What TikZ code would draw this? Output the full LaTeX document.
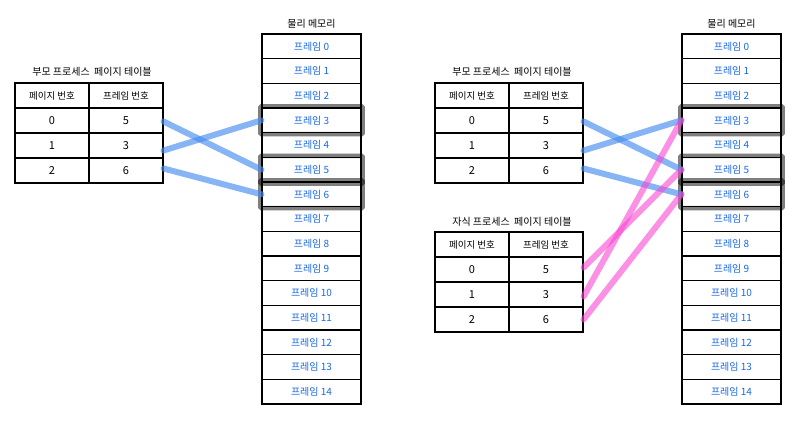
\documentclass[tikz,border=0pt]{standalone}
\usepackage{fontspec}
\setmainfont{Noto Sans CJK KR}
\usetikzlibrary{fit,calc}
\definecolor{framecol}{RGB}{25,105,230}
\definecolor{bluelinkcol}{RGB}{70,140,240}
\definecolor{pinklinkcol}{RGB}{250,70,210}
\tikzset{
  cell/.style={draw, line width=1.1pt, minimum width=74pt, minimum height=25pt, inner sep=0pt, font=\fontsize{11}{11}\selectfont},
  headcell/.style={cell, font=\fontsize{9.5}{9.5}\selectfont},
  memcell/.style={draw, line width=1.1pt, minimum width=99pt, minimum height=24.667pt, inner sep=0pt, text=framecol, font=\fontsize{10}{10}\selectfont},
  titletext/.style={font=\fontsize{10}{10}\selectfont, inner sep=0pt},
  hlbox/.style={draw=black, draw opacity=0.5, line width=4.5pt, inner sep=1pt, rounded corners=1pt},
  bluelink/.style={draw=bluelinkcol, draw opacity=0.65, line width=6pt, line cap=round},
  pinklink/.style={draw=pinklinkcol, draw opacity=0.6, line width=6pt, line cap=round}
}
\begin{document}
\begin{tikzpicture}[x=1pt,y=-1pt]
\useasboundingbox[fill=white] (0,0) rectangle (806,427);

% ---------- left half ----------
\node[titletext] (ta-title) at (92,72) {부모 프로세스 \ 페이지 테이블};
\node[headcell] (ta-hp) at (52,95.5) {페이지 번호};
\node[headcell] (ta-hf) at (126,95.5) {프레임 번호};
\foreach \p/\f [count=\k from 0] in {0/5,1/3,2/6} {
  \node[cell] (ta-p\k) at (52,{120.5+25*\k}) {\p};
  \node[cell] (ta-f\k) at (126,{120.5+25*\k}) {\f};
}
\node[titletext] (ma-title) at (311.5,24) {물리 메모리};
\foreach \i in {0,...,14} {
  \node[memcell] (ma\i) at (311.5,{34+(\i+0.5)*24.667}) {프레임 \i};
}
\node[hlbox, fit=(ma3)] (ma-h3) {};
\node[hlbox, fit=(ma5)] (ma-h5) {};
\node[hlbox, fit=(ma6)] (ma-h6) {};
\draw[bluelink] ($(ta-f0.east)+(0,1)$) -- (ma5.west);
\draw[bluelink] ($(ta-f1.east)+(0,5)$) -- (ma3.west);
\draw[bluelink] ($(ta-f2.east)+(0,-2)$) -- (ma6.west);

% ---------- right half ----------
\node[titletext] (tb-title) at (512,72) {부모 프로세스 \ 페이지 테이블};
\node[headcell] (tb-hp) at (472,95.5) {페이지 번호};
\node[headcell] (tb-hf) at (546,95.5) {프레임 번호};
\foreach \p/\f [count=\k from 0] in {0/5,1/3,2/6} {
  \node[cell] (tb-p\k) at (472,{120.5+25*\k}) {\p};
  \node[cell] (tb-f\k) at (546,{120.5+25*\k}) {\f};
}
\node[titletext] (tc-title) at (512,222) {자식 프로세스 \ 페이지 테이블};
\node[headcell] (tc-hp) at (472,244.5) {페이지 번호};
\node[headcell] (tc-hf) at (546,244.5) {프레임 번호};
\foreach \p/\f [count=\k from 0] in {0/5,1/3,2/6} {
  \node[cell] (tc-p\k) at (472,{269.5+25*\k}) {\p};
  \node[cell] (tc-f\k) at (546,{269.5+25*\k}) {\f};
}
\node[titletext] (mb-title) at (731.5,24) {물리 메모리};
\foreach \i in {0,...,14} {
  \node[memcell] (mb\i) at (731.5,{34+(\i+0.5)*24.667}) {프레임 \i};
}
\node[hlbox, fit=(mb3)] (mb-h3) {};
\node[hlbox, fit=(mb5)] (mb-h5) {};
\node[hlbox, fit=(mb6)] (mb-h6) {};
\draw[bluelink] ($(tb-f0.east)+(0,1)$) -- (mb5.west);
\draw[bluelink] ($(tb-f1.east)+(0,5)$) -- (mb3.west);
\draw[bluelink] ($(tb-f2.east)+(0,-2)$) -- (mb6.west);
\draw[pinklink] ($(tc-f0.east)+(0,-2)$) -- (mb5.west);
\draw[pinklink] ($(tc-f1.east)+(0,2)$) -- (mb3.west);
\draw[pinklink] (tc-f2.east) -- (mb6.west);
\end{tikzpicture}
\end{document}
